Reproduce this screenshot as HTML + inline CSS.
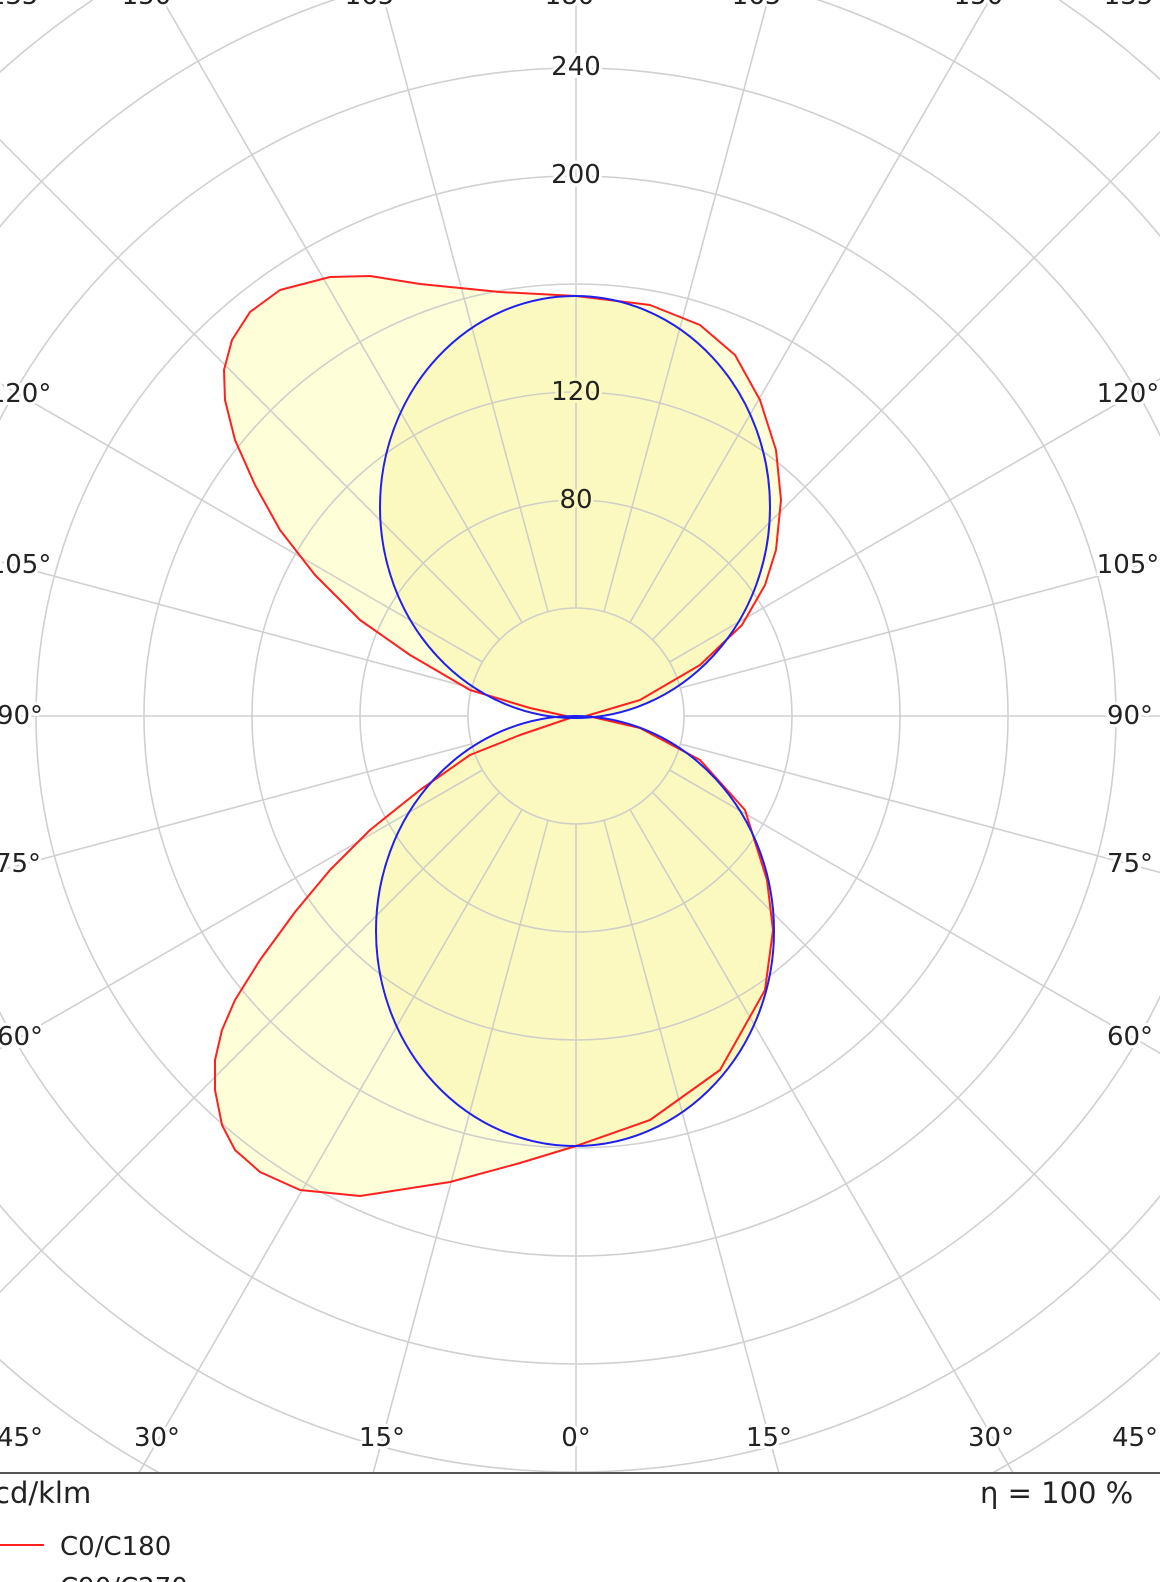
<!DOCTYPE html>
<html><head><style>
html,body{margin:0;padding:0;background:#fff;overflow:hidden;width:1160px;height:1582px;}
svg{display:block;overflow:hidden;}
text{font-family:"DejaVu Sans","Liberation Sans",sans-serif;fill:#222;}
</style></head><body>
<svg width="1160" height="1582" viewBox="0 0 1160 1582" xmlns="http://www.w3.org/2000/svg">
<defs><clipPath id="c"><rect x="0" y="0" width="1160" height="1473"/></clipPath></defs>
<g clip-path="url(#c)">
<path d="M576,716 L520,735 L470,755 L420,790 L370,830 L330,870 L295,912 L260,960 L235,1000 L222,1030 L215,1060 L215,1090 L222,1125 L235,1150 L260,1172 L300,1190 L360,1196 L450,1182 L520,1163 L576,1146 L650,1120 L720,1070 L765,990 L773,930 L767,880 L745,810 L700,760 L640,728 Z" fill="#fefed8"/>
<path d="M576,716 L530,708 L470,690 L410,655 L360,620 L315,575 L280,530 L255,485 L235,440 L225,400 L224,370 L232,340 L250,312 L280,290 L330,277 L370,276 L420,284 L500,292 L576,296 L650,305 L700,325 L735,355 L760,400 L776,450 L781,500 L776,550 L765,585 L742,625 L700,665 L640,700 Z" fill="#fefed8"/>
<ellipse cx="575" cy="507" rx="195" ry="211" fill="#fcf9c0"/>
<ellipse cx="575" cy="931" rx="199" ry="215" fill="#fcf9c0"/>
<g fill="none" stroke="#c8c8c8" stroke-width="1.6" opacity="0.85">
<circle cx="576" cy="716" r="108"/><circle cx="576" cy="716" r="216"/><circle cx="576" cy="716" r="324"/>
<circle cx="576" cy="716" r="432"/><circle cx="576" cy="716" r="540"/><circle cx="576" cy="716" r="648"/>
<circle cx="576" cy="716" r="756"/><circle cx="576" cy="716" r="864"/><circle cx="576" cy="716" r="972"/>
<g>
<line x1="576" y1="824" x2="576" y2="2716"/>
<line x1="576" y1="824" x2="576" y2="2716" transform="rotate(15 576 716)"/>
<line x1="576" y1="824" x2="576" y2="2716" transform="rotate(30 576 716)"/>
<line x1="576" y1="824" x2="576" y2="2716" transform="rotate(45 576 716)"/>
<line x1="576" y1="824" x2="576" y2="2716" transform="rotate(60 576 716)"/>
<line x1="576" y1="824" x2="576" y2="2716" transform="rotate(75 576 716)"/>
<line x1="576" y1="824" x2="576" y2="2716" transform="rotate(90 576 716)"/>
<line x1="576" y1="824" x2="576" y2="2716" transform="rotate(105 576 716)"/>
<line x1="576" y1="824" x2="576" y2="2716" transform="rotate(120 576 716)"/>
<line x1="576" y1="824" x2="576" y2="2716" transform="rotate(135 576 716)"/>
<line x1="576" y1="824" x2="576" y2="2716" transform="rotate(150 576 716)"/>
<line x1="576" y1="824" x2="576" y2="2716" transform="rotate(165 576 716)"/>
<line x1="576" y1="824" x2="576" y2="2716" transform="rotate(180 576 716)"/>
<line x1="576" y1="824" x2="576" y2="2716" transform="rotate(195 576 716)"/>
<line x1="576" y1="824" x2="576" y2="2716" transform="rotate(210 576 716)"/>
<line x1="576" y1="824" x2="576" y2="2716" transform="rotate(225 576 716)"/>
<line x1="576" y1="824" x2="576" y2="2716" transform="rotate(240 576 716)"/>
<line x1="576" y1="824" x2="576" y2="2716" transform="rotate(255 576 716)"/>
<line x1="576" y1="824" x2="576" y2="2716" transform="rotate(270 576 716)"/>
<line x1="576" y1="824" x2="576" y2="2716" transform="rotate(285 576 716)"/>
<line x1="576" y1="824" x2="576" y2="2716" transform="rotate(300 576 716)"/>
<line x1="576" y1="824" x2="576" y2="2716" transform="rotate(315 576 716)"/>
<line x1="576" y1="824" x2="576" y2="2716" transform="rotate(330 576 716)"/>
<line x1="576" y1="824" x2="576" y2="2716" transform="rotate(345 576 716)"/>
</g>
</g>
<path d="M576,716 L520,735 L470,755 L420,790 L370,830 L330,870 L295,912 L260,960 L235,1000 L222,1030 L215,1060 L215,1090 L222,1125 L235,1150 L260,1172 L300,1190 L360,1196 L450,1182 L520,1163 L576,1146 L650,1120 L720,1070 L765,990 L773,930 L767,880 L745,810 L700,760 L640,728 L588,716" fill="none" stroke="#ff2020" stroke-width="2" stroke-linejoin="round"/>
<path d="M566,716 L530,708 L470,690 L410,655 L360,620 L315,575 L280,530 L255,485 L235,440 L225,400 L224,370 L232,340 L250,312 L280,290 L330,277 L370,276 L420,284 L500,292 L576,296 L650,305 L700,325 L735,355 L760,400 L776,450 L781,500 L776,550 L765,585 L742,625 L700,665 L640,700 L586,716" fill="none" stroke="#ff2020" stroke-width="2" stroke-linejoin="round"/>
<ellipse cx="575" cy="507" rx="195" ry="211" fill="none" stroke="#2020ee" stroke-width="2"/>
<ellipse cx="575" cy="931" rx="199" ry="215" fill="none" stroke="#2020ee" stroke-width="2"/>
<g font-size="26" text-anchor="middle">
<text x="576" y="75" style="paint-order:stroke" stroke="#fff" stroke-width="6">240</text>
<text x="576" y="183" style="paint-order:stroke" stroke="#fff" stroke-width="6">200</text>
<text x="576" y="400" style="paint-order:stroke" stroke="#fcf9c0" stroke-width="6">120</text>
<text x="576" y="508" style="paint-order:stroke" stroke="#fcf9c0" stroke-width="6">80</text>
<g style="paint-order:stroke" stroke="#fff" stroke-width="6">
<text x="20" y="4">135°</text><text x="153" y="4">150°</text><text x="376" y="4">165°</text><text x="576" y="4">180°</text><text x="763" y="4">165°</text><text x="985" y="4">150°</text><text x="1135" y="4">135°</text>
<text x="20" y="402">120°</text><text x="20" y="573">105°</text><text x="20" y="724">90°</text><text x="18" y="872">75°</text><text x="20" y="1045">60°</text>
<text x="1128" y="402">120°</text><text x="1128" y="573">105°</text><text x="1130" y="724">90°</text><text x="1130" y="872">75°</text><text x="1130" y="1045">60°</text>
<text x="20" y="1446">45°</text><text x="157" y="1446">30°</text><text x="382" y="1446">15°</text><text x="576" y="1446">0°</text><text x="769" y="1446">15°</text><text x="991" y="1446">30°</text><text x="1135" y="1446">45°</text>
</g>
</g>
</g>
<line x1="0" y1="1473" x2="1160" y2="1473" stroke="#555" stroke-width="2"/>
<text x="-6" y="1503" font-size="29">cd/klm</text>
<text x="980" y="1503" font-size="29">η = 100 %</text>
<line x1="0" y1="1545" x2="44" y2="1545" stroke="#ff2020" stroke-width="2"/>
<text x="60" y="1555" font-size="26">C0/C180</text>
<line x1="0" y1="1590" x2="44" y2="1590" stroke="#2020ee" stroke-width="2"/>
<text x="60" y="1596" font-size="26">C90/C270</text>
</svg>
</body></html>
